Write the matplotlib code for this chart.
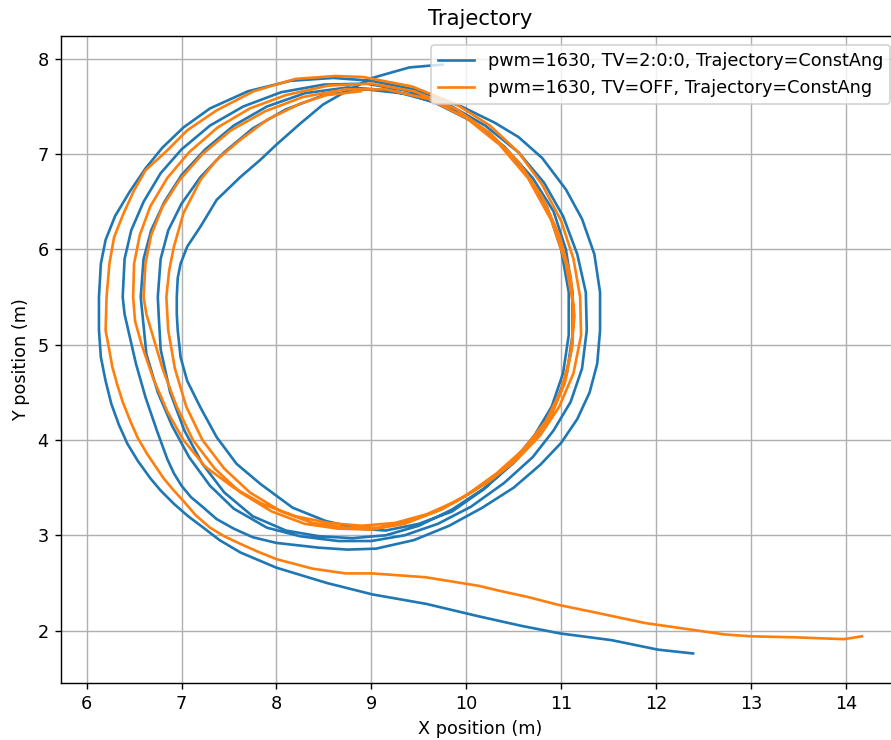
import matplotlib
matplotlib.use("Agg")
import matplotlib.pyplot as plt

# trajectories, (x, y) in metres
blue_label = "pwm=1630, TV=2:0:0, Trajectory=ConstAng"
blue_xy = [
    # tail along the bottom
    (12.39, 1.76), (12.02, 1.80), (11.53, 1.90), (10.99, 1.97), (10.58, 2.05),
    (10.13, 2.15), (9.58, 2.28), (9.01, 2.38), (8.53, 2.50), (8.00, 2.66),
    (7.62, 2.82), (7.40, 2.95), (7.23, 3.08), (7.07, 3.20), (6.92, 3.33),
    (6.78, 3.47), (6.67, 3.60), (6.54, 3.78), (6.43, 3.96), (6.34, 4.16),
    (6.26, 4.38), (6.20, 4.62), (6.15, 4.87),
    # lap 1
    (6.13, 5.15), (6.13, 5.50), (6.15, 5.85), (6.20, 6.10), (6.30, 6.35),
    (6.45, 6.60), (6.62, 6.85), (6.80, 7.07), (7.02, 7.28), (7.30, 7.48),
    (7.70, 7.66), (8.15, 7.77), (8.60, 7.80), (9.00, 7.77), (9.45, 7.68),
    (9.95, 7.50), (10.30, 7.33), (10.55, 7.18), (10.80, 6.96), (11.05, 6.63),
    (11.22, 6.32), (11.35, 5.95), (11.41, 5.55), (11.41, 5.15), (11.38, 4.80),
    (11.30, 4.50), (11.17, 4.22), (11.00, 3.97), (10.78, 3.74), (10.50, 3.50),
    (10.17, 3.29), (9.82, 3.10), (9.45, 2.95), (9.05, 2.86), (8.75, 2.85),
    (8.45, 2.87), (8.00, 2.92), (7.75, 2.98), (7.55, 3.07), (7.37, 3.17),
    (7.22, 3.30), (7.10, 3.40), (7.00, 3.52), (6.92, 3.65), (6.85, 3.80),
    (6.74, 4.10), (6.62, 4.45), (6.52, 4.80), (6.44, 5.15), (6.40, 5.32),
    # lap 2
    (6.38, 5.50), (6.40, 5.90), (6.47, 6.20), (6.60, 6.50), (6.78, 6.80),
    (7.00, 7.05), (7.30, 7.30), (7.65, 7.50), (8.05, 7.65), (8.50, 7.73),
    (8.95, 7.74), (9.40, 7.66), (9.85, 7.50), (10.20, 7.30), (10.55, 7.02),
    (10.82, 6.70), (11.02, 6.35), (11.17, 5.95), (11.26, 5.55), (11.27, 5.15),
    (11.22, 4.75), (11.10, 4.40), (10.92, 4.10), (10.70, 3.82), (10.40, 3.55),
    (10.05, 3.30), (9.70, 3.12), (9.35, 3.00), (9.00, 2.94), (8.65, 2.94),
    (8.25, 2.99), (7.90, 3.08), (7.55, 3.28), (7.30, 3.52), (7.08, 3.82),
    (6.90, 4.15), (6.75, 4.50), (6.63, 4.90), (6.59, 5.30),
    # lap 3
    (6.57, 5.50), (6.60, 5.90), (6.68, 6.20), (6.82, 6.50), (7.00, 6.78),
    (7.25, 7.05), (7.55, 7.30), (7.90, 7.50), (8.30, 7.64), (8.75, 7.70),
    (9.20, 7.67), (9.65, 7.55), (10.05, 7.35), (10.40, 7.08), (10.70, 6.75),
    (10.92, 6.40), (11.05, 6.00), (11.12, 5.55), (11.12, 5.10), (11.06, 4.70),
    (10.93, 4.35), (10.75, 4.05), (10.50, 3.76), (10.20, 3.50), (9.85, 3.27),
    (9.50, 3.10), (9.15, 3.00), (8.80, 2.97), (8.45, 2.99), (8.10, 3.05),
    (7.75, 3.20), (7.45, 3.45), (7.22, 3.75), (7.03, 4.10), (6.88, 4.50),
    (6.78, 4.95), (6.76, 5.30),
    # lap 4
    (6.75, 5.50), (6.78, 5.90), (6.86, 6.20), (7.00, 6.48), (7.20, 6.76),
    (7.45, 7.02), (7.75, 7.27), (8.10, 7.47), (8.50, 7.62), (8.95, 7.68),
    (9.40, 7.63), (9.85, 7.48), (10.25, 7.22), (10.58, 6.88), (10.85, 6.45),
    (11.00, 6.00), (11.08, 5.55), (11.08, 5.10), (11.02, 4.70), (10.90, 4.35),
    (10.72, 4.05), (10.48, 3.76), (10.18, 3.48), (9.85, 3.25), (9.50, 3.12),
    (9.15, 3.05), (8.87, 3.07), (8.52, 3.15), (8.17, 3.29), (7.83, 3.54),
    (7.58, 3.75), (7.37, 4.03), (7.20, 4.34), (7.06, 4.62), (6.99, 4.87),
    (6.96, 5.15), (6.95, 5.32),
    # last pass, leaving towards the top
    (6.95, 5.50), (6.96, 5.70), (6.99, 5.85), (7.06, 6.03), (7.20, 6.24),
    (7.37, 6.52), (7.62, 6.76), (7.83, 6.94), (8.00, 7.10), (8.25, 7.32),
    (8.49, 7.52), (8.70, 7.64), (9.01, 7.80), (9.40, 7.91), (9.75, 7.94),
]

orange_label = "pwm=1630, TV=OFF, Trajectory=ConstAng"
orange_xy = [
    # tail along the bottom
    (14.17, 1.94), (13.98, 1.91), (13.45, 1.93), (13.00, 1.94), (12.72, 1.96),
    (12.30, 2.02), (11.88, 2.08), (11.36, 2.19), (10.97, 2.27), (10.66, 2.35),
    (10.34, 2.42), (10.13, 2.47), (9.57, 2.56), (9.01, 2.60), (8.73, 2.60),
    (8.38, 2.65), (8.00, 2.75), (7.80, 2.83), (7.62, 2.91), (7.45, 2.99),
    (7.30, 3.08), (7.15, 3.21), (7.02, 3.36), (6.91, 3.48), (6.81, 3.60),
    (6.64, 3.85), (6.54, 4.02), (6.46, 4.20), (6.38, 4.40), (6.32, 4.59),
    (6.27, 4.77), (6.24, 4.94),
    # lap 1
    (6.20, 5.15), (6.21, 5.50), (6.24, 5.85), (6.29, 6.13), (6.39, 6.38),
    (6.50, 6.62), (6.62, 6.83), (6.85, 7.04), (7.06, 7.25), (7.37, 7.46),
    (7.76, 7.66), (8.20, 7.79), (8.62, 7.82), (8.91, 7.81), (9.43, 7.71),
    (9.90, 7.52), (10.25, 7.30), (10.55, 7.02), (10.80, 6.68), (11.00, 6.30),
    (11.13, 5.90), (11.20, 5.50), (11.21, 5.10), (11.13, 4.70), (10.98, 4.35),
    (10.78, 4.05), (10.52, 3.78), (10.22, 3.55), (9.90, 3.36), (9.58, 3.22),
    (9.25, 3.13), (8.90, 3.10), (8.55, 3.13), (8.20, 3.20), (7.85, 3.33),
    (7.55, 3.50), (7.25, 3.72), (7.02, 4.00), (6.85, 4.30), (6.70, 4.65),
    (6.58, 5.00), (6.51, 5.25),
    # lap 2
    (6.49, 5.50), (6.50, 5.85), (6.56, 6.15), (6.67, 6.45), (6.85, 6.75),
    (7.08, 7.02), (7.38, 7.28), (7.72, 7.48), (8.10, 7.62), (8.55, 7.72),
    (9.00, 7.74), (9.45, 7.66), (9.90, 7.47), (10.25, 7.22), (10.55, 6.92),
    (10.80, 6.55), (10.98, 6.15), (11.10, 5.72), (11.14, 5.30), (11.10, 4.90),
    (11.00, 4.52), (10.84, 4.20), (10.60, 3.90), (10.32, 3.65), (10.00, 3.42),
    (9.68, 3.25), (9.35, 3.12), (9.00, 3.06), (8.65, 3.07), (8.30, 3.12),
    (7.95, 3.25), (7.62, 3.45), (7.35, 3.70), (7.12, 4.00), (6.95, 4.35),
    (6.80, 4.75), (6.68, 5.15), (6.63, 5.32),
    # lap 3
    (6.60, 5.50), (6.62, 5.85), (6.68, 6.15), (6.80, 6.45), (6.98, 6.73),
    (7.22, 7.00), (7.52, 7.25), (7.88, 7.45), (8.28, 7.60), (8.72, 7.68),
    (9.15, 7.68), (9.60, 7.58), (10.00, 7.38), (10.35, 7.10), (10.65, 6.75),
    (10.90, 6.30), (11.05, 5.85), (11.13, 5.40), (11.12, 5.00), (11.04, 4.60),
    (10.90, 4.27), (10.68, 3.97), (10.40, 3.70), (10.07, 3.46), (9.74, 3.27),
    (9.40, 3.15), (9.07, 3.08), (8.72, 3.08), (8.38, 3.13), (8.05, 3.25),
    (7.72, 3.45), (7.45, 3.70), (7.22, 4.00), (7.05, 4.35), (6.93, 4.75),
    (6.86, 5.15), (6.85, 5.32),
    # last pass, ends near the top
    (6.84, 5.50), (6.87, 5.78), (6.92, 6.03), (7.02, 6.38), (7.20, 6.73),
    (7.37, 6.94), (7.62, 7.15), (7.90, 7.36), (8.25, 7.53), (8.53, 7.62),
    (8.89, 7.66),
]

blue_x = [p[0] for p in blue_xy]
blue_y = [p[1] for p in blue_xy]
orange_x = [p[0] for p in orange_xy]
orange_y = [p[1] for p in orange_xy]

DPI = 127
fig = plt.figure(figsize=(891 / DPI, 740 / DPI), dpi=DPI)
# the reference is cut on the right, so the axes run past the figure edge
ax = fig.add_axes([61 / 891, 57 / 740, 838 / 891, 647 / 740])

ax.plot(blue_x, blue_y, color="tab:blue", label=blue_label)
ax.plot(orange_x, orange_y, color="tab:orange", label=orange_label)

ax.set_xlim(5.73, 14.56)
ax.set_ylim(1.45, 8.24)
ax.set_title("Trajectory")
ax.set_xlabel("X position (m)")
ax.set_ylabel("Y position (m)")
ax.grid(True)
ax.legend(loc="upper right")

fig.savefig("out.png", dpi=DPI)
plt.close(fig)
